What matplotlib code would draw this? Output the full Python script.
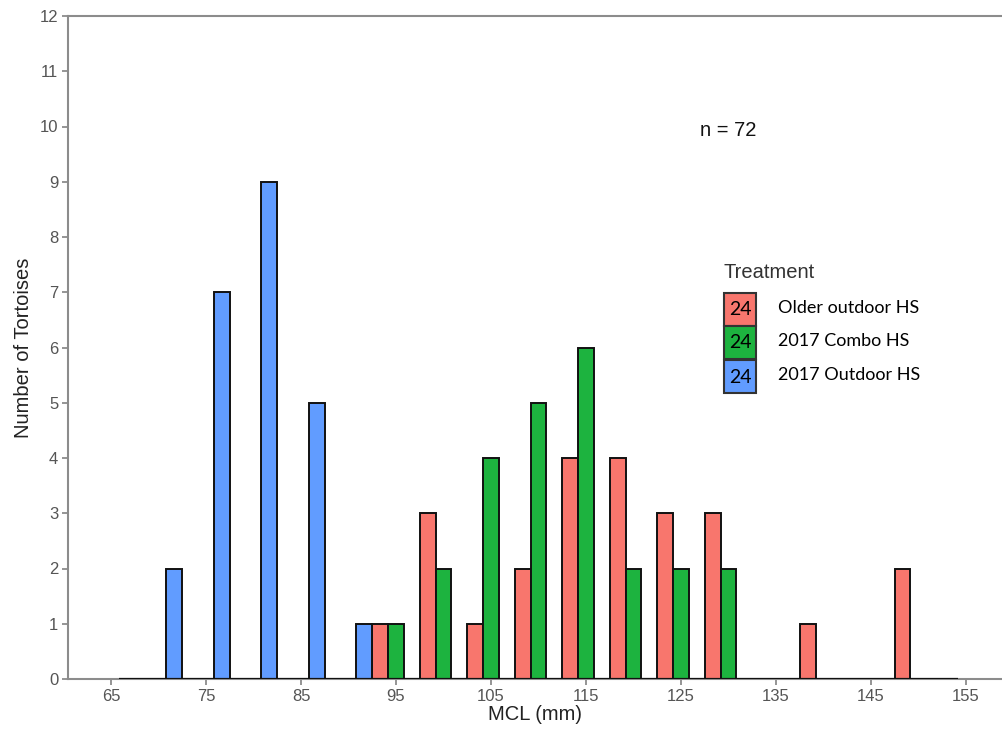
import matplotlib
matplotlib.use('Agg')
import matplotlib.pyplot as plt
import numpy as np
from matplotlib.patches import Rectangle

# histogram bins (5 mm wide, centred on multiples of 5)
bins = [65, 70, 75, 80, 85, 90, 95, 100, 105, 110, 115, 120, 125, 130, 135, 140, 145, 150, 155]
groups = ['Older outdoor HS', '2017 Combo HS', '2017 Outdoor HS']
older_outdoor = [0, 0, 0, 0, 0, 0, 1, 3, 1, 2, 4, 4, 3, 3, 0, 1, 0, 2, 0]
combo_2017 = [0, 0, 0, 0, 0, 0, 1, 2, 4, 5, 6, 2, 2, 2, 0, 0, 0, 0, 0]
outdoor_2017 = [0, 2, 7, 9, 5, 1, 0, 0, 0, 0, 0, 0, 0, 0, 0, 0, 0, 0, 0]
group_n = [24, 24, 24]
colors = ['#F8766D', '#1DB33F', '#619CFF']

W, H = 1002, 730
fig = plt.figure(figsize=(W / 100, H / 100), dpi=100)
ax = fig.add_axes([68 / W, 1 - 679 / H, 1 - 68 / W, (679 - 16) / H])

binw = 5.0
barw = binw / 3
counts = [older_outdoor, combo_2017, outdoor_2017]
x = np.array(bins, dtype=float)
for i, (c, col) in enumerate(zip(counts, colors)):
    c = np.array(c)
    pos = x + (i - 1) * barw
    nz = c > 0
    ax.bar(pos[nz], c[nz], width=barw, color=col, edgecolor='#111111',
           linewidth=1.4, zorder=3)

# zero-count bins leave a dark outline along the baseline
x_lo = bins[0] + barw - barw / 2
x_hi = bins[-1] - barw + barw / 2
ax.plot([x_lo, x_hi], [0, 0], color='#111111', lw=1.6, zorder=4,
        solid_capstyle='butt')

ax.set_xlim(60.47, 158.8)
ax.set_ylim(0, 12)
ax.set_xticks(np.arange(65, 156, 10))
ax.set_yticks(np.arange(0, 13, 1))

for side in ['left', 'bottom', 'top']:
    ax.spines[side].set_color('#8c8c8c')
    ax.spines[side].set_linewidth(1.5)
ax.spines['right'].set_visible(False)
ax.tick_params(axis='both', colors='#8c8c8c', width=1.3, length=4,
               labelsize=12, labelcolor='#555555', pad=3)
for lab in ax.get_xticklabels() + ax.get_yticklabels():
    lab.set_family('Liberation Sans')

ax.set_xlabel('MCL (mm)', fontsize=14.5, family='Liberation Sans',
              color='#222222', labelpad=1)
ax.set_ylabel('Number of Tortoises', fontsize=14.5, family='Liberation Sans',
              color='#222222', labelpad=5)

ax.text(130, 9.93, 'n = 72', fontsize=14.5, family='Liberation Sans',
        color='#111111', ha='center', va='center')

# legend drawn by hand
def fpos(px, py):
    return px / W, 1 - py / H

fig.text(*fpos(723, 272), 'Treatment', fontsize=14.5, family='Liberation Sans',
         color='#333333', ha='left', va='center')
tops = [293, 326, 360]
for col, lab, n, top in zip(colors, groups, group_n, tops):
    x0, y0 = fpos(724, top + 33)
    fig.patches.append(Rectangle((x0, y0), 32 / W, 33 / H, transform=fig.transFigure,
                                 facecolor=col, edgecolor='#333333', linewidth=1.5))
    fig.text(*fpos(740, top + 17), str(n), fontsize=14, family='Lato',
             color='#000000', ha='center', va='center')
    fig.text(*fpos(778, top + 15), lab, fontsize=13, family='Lato',
             color='#000000', ha='left', va='center')

fig.savefig('out.png', dpi=100, facecolor='white')
